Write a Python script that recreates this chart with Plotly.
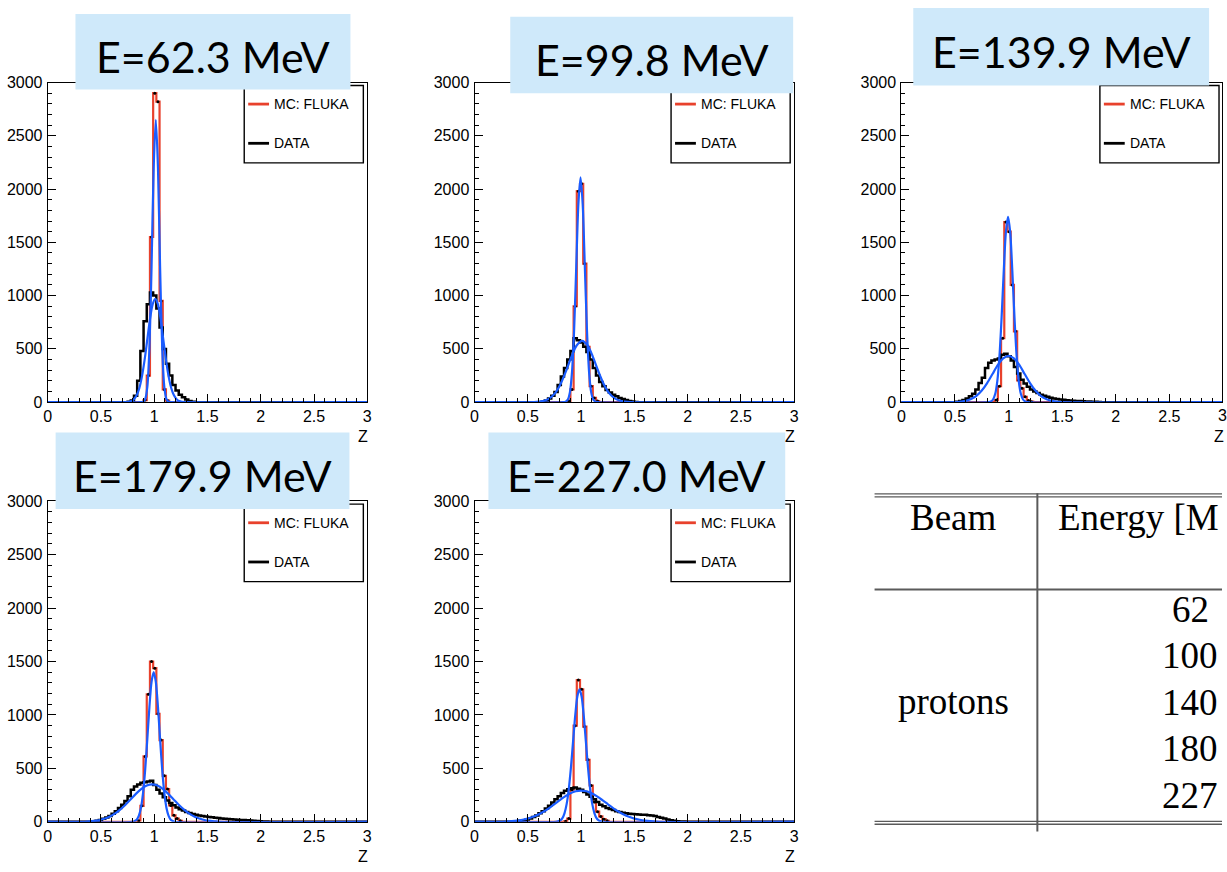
import plotly.graph_objects as go

W, H = 1227, 872
BIN_W = 0.03
N_BINS = 100

TITLES = ["E=62.3 MeV", "E=99.8 MeV", "E=139.9 MeV", "E=179.9 MeV", "E=227.0 MeV"]
X_TICKS = [0, 0.5, 1, 1.5, 2, 2.5, 3]
X_TICK_TEXT = ["0", "0.5", "1", "1.5", "2", "2.5", "3"]
Y_TICKS = [0, 500, 1000, 1500, 2000, 2500, 3000]
LEGEND_MC = "MC: FLUKA"
LEGEND_DATA = "DATA"

# ---- MC (FLUKA) histograms: centre of first listed bin, then counts per 0.03 bin
MC_FIRST = [0.915, 0.885, 0.885, 0.855, 0.855]
MC_62 = [20, 250, 1550, 2900, 2820, 950, 120, 15]
MC_100 = [10, 120, 900, 1980, 2050, 1300, 520, 150, 40, 10]
MC_140 = [20, 150, 600, 1690, 1600, 1100, 665, 205, 130, 50, 15, 5]
MC_180 = [10, 150, 612, 1193, 1500, 1438, 1010, 765, 430, 306, 153, 61, 30, 10]
MC_227 = [5, 30, 300, 900, 1326, 1240, 890, 580, 340, 185, 95, 50, 25, 10]

# ---- DATA histograms
DATA_FIRST = [0.765, 0.645, 0.525, 0.435, 0.375]
DATA_62 = [5, 15, 60, 200, 480, 760, 920, 1030, 1000, 880, 700, 500, 360, 250, 160,
           110, 70, 45, 25, 10, 3]
DATA_100 = [5, 15, 35, 60, 95, 160, 240, 320, 400, 480, 600, 580, 560, 520, 470, 400,
            320, 250, 190, 150, 115, 90, 70, 55, 40, 30, 20, 12, 6, 2]
DATA_140 = [3, 10, 20, 35, 55, 80, 120, 180, 230, 320, 370, 390, 400, 410, 445, 455,
            430, 390, 330, 270, 210, 175, 145, 120, 100, 85, 70, 60, 50, 42, 35, 30,
            26, 22, 19, 16, 14, 12, 10, 8, 7, 6, 4, 3, 2]
DATA_180 = [5, 10, 18, 28, 40, 55, 75, 100, 130, 160, 195, 240, 300, 330, 350, 365,
            370, 378, 385, 345, 300, 265, 230, 200, 175, 155, 135, 118, 105, 92, 82,
            74, 66, 60, 55, 50, 46, 42, 38, 35, 32, 29, 27, 25, 22, 20, 18, 16, 14,
            12, 10, 8, 6, 4, 2]
DATA_227 = [3, 6, 10, 15, 22, 32, 45, 60, 80, 100, 125, 150, 180, 210, 240, 270, 290,
            305, 315, 320, 310, 300, 280, 255, 235, 210, 185, 160, 145, 130, 120, 110,
            100, 92, 85, 80, 76, 72, 70, 68, 66, 65, 62, 60, 55, 46, 38, 30, 22, 15,
            10, 6, 4, 2]

# ---- Gaussian fit curves (blue)
FIT_MC_Z_62 = [0.875, 0.895, 0.915, 0.935, 0.955, 0.975, 0.995, 1.015, 1.035, 1.055,
               1.075, 1.095, 1.115, 1.135, 1.155]
FIT_MC_Y_62 = [0, 4, 27, 140, 507, 1271, 2205, 2650, 2205, 1271, 507, 140, 27, 4, 0]
FIT_MC_Z_100 = [0.835, 0.855, 0.875, 0.895, 0.915, 0.935, 0.955, 0.975, 0.995, 1.015,
                1.035, 1.055, 1.075, 1.095, 1.115, 1.135, 1.155]
FIT_MC_Y_100 = [0, 5, 24, 92, 285, 685, 1280, 1862, 2110, 1862, 1280, 685, 285, 92, 24, 5, 0]
FIT_MC_Z_140 = [0.815, 0.835, 0.855, 0.875, 0.895, 0.915, 0.935, 0.955, 0.975, 0.995,
                1.015, 1.035, 1.055, 1.075, 1.095, 1.115, 1.135, 1.155, 1.175]
FIT_MC_Y_140 = [0, 6, 25, 76, 198, 434, 796, 1230, 1595, 1740, 1595, 1230, 796, 434,
                198, 76, 25, 6, 0]
FIT_MC_Z_180 = [0.795, 0.815, 0.835, 0.855, 0.875, 0.895, 0.915, 0.935, 0.955, 0.975,
                0.995, 1.015, 1.035, 1.055, 1.075, 1.095, 1.115, 1.135, 1.155, 1.175, 1.195]
FIT_MC_Y_180 = [0, 7, 20, 55, 130, 268, 486, 772, 1075, 1310, 1400, 1310, 1075, 772,
                486, 268, 130, 55, 20, 7, 0]
FIT_MC_Z_227 = [0.765, 0.785, 0.805, 0.825, 0.845, 0.865, 0.885, 0.905, 0.925, 0.945,
                0.965, 0.985, 1.005, 1.025, 1.045, 1.065, 1.085, 1.105, 1.125, 1.145,
                1.165, 1.185, 1.205]
FIT_MC_Y_227 = [0, 5, 14, 35, 82, 168, 309, 510, 752, 993, 1173, 1240, 1173, 993, 752,
                510, 309, 168, 82, 35, 14, 5, 0]

FIT_DATA_Z_62 = [0.735, 0.76, 0.785, 0.81, 0.835, 0.86, 0.885, 0.91, 0.935, 0.96, 0.985,
                 1.01, 1.035, 1.06, 1.085, 1.11, 1.135, 1.16, 1.185, 1.21, 1.235, 1.26, 1.285]
FIT_DATA_Y_62 = [0, 4, 11, 28, 64, 131, 242, 399, 588, 777, 918, 970, 918, 777, 588,
                 399, 242, 131, 64, 28, 11, 4, 0]
FIT_DATA_Z_100 = [0.56, 0.61, 0.66, 0.71, 0.76, 0.81, 0.86, 0.91, 0.96, 1.01, 1.06,
                  1.11, 1.16, 1.21, 1.26, 1.31, 1.36, 1.41, 1.46]
FIT_DATA_Y_100 = [0, 5, 15, 40, 90, 176, 295, 428, 534, 575, 534, 428, 295, 176, 90,
                  40, 15, 5, 0]
FIT_DATA_Z_140 = [0.5, 0.55, 0.6, 0.65, 0.7, 0.75, 0.8, 0.85, 0.9, 0.95, 1.0, 1.05,
                  1.1, 1.15, 1.2, 1.25, 1.3, 1.35, 1.4, 1.45, 1.5]
FIT_DATA_Y_140 = [0, 5, 12, 29, 59, 109, 179, 264, 349, 411, 435, 411, 349, 264, 179,
                  109, 59, 29, 12, 5, 0]
FIT_DATA_Z_180 = [0.33, 0.38, 0.43, 0.48, 0.53, 0.58, 0.63, 0.68, 0.73, 0.78, 0.83,
                  0.88, 0.93, 0.98, 1.03, 1.08, 1.13, 1.18, 1.23, 1.28, 1.33, 1.38,
                  1.43, 1.48, 1.53, 1.58, 1.63]
FIT_DATA_Y_180 = [0, 4, 8, 15, 28, 47, 76, 114, 160, 212, 264, 309, 339, 350, 339, 309,
                  264, 212, 160, 114, 76, 47, 28, 15, 8, 4, 0]
FIT_DATA_Z_227 = [0.25, 0.3, 0.35, 0.4, 0.45, 0.5, 0.55, 0.6, 0.65, 0.7, 0.75, 0.8,
                  0.85, 0.9, 0.95, 1.0, 1.05, 1.1, 1.15, 1.2, 1.25, 1.3, 1.35, 1.4,
                  1.45, 1.5, 1.55, 1.6, 1.65, 1.7, 1.75]
FIT_DATA_Y_227 = [0, 3, 6, 11, 19, 30, 47, 69, 96, 129, 166, 203, 238, 267, 286, 292,
                  286, 267, 238, 203, 166, 129, 96, 69, 47, 30, 19, 11, 6, 3, 0]

# ---- table (cropped at the right edge of the picture)
TABLE_HEAD = ["Beam", "Energy [M"]
TABLE_BEAM = "protons"
TABLE_ENERGIES = ["62", "100", "140", "180", "227"]

MC_LIST = [MC_62, MC_100, MC_140, MC_180, MC_227]
DATA_LIST = [DATA_62, DATA_100, DATA_140, DATA_180, DATA_227]
FIT_MC = [(FIT_MC_Z_62, FIT_MC_Y_62), (FIT_MC_Z_100, FIT_MC_Y_100), (FIT_MC_Z_140, FIT_MC_Y_140),
          (FIT_MC_Z_180, FIT_MC_Y_180), (FIT_MC_Z_227, FIT_MC_Y_227)]
FIT_DATA = [(FIT_DATA_Z_62, FIT_DATA_Y_62), (FIT_DATA_Z_100, FIT_DATA_Y_100),
            (FIT_DATA_Z_140, FIT_DATA_Y_140), (FIT_DATA_Z_180, FIT_DATA_Y_180),
            (FIT_DATA_Z_227, FIT_DATA_Y_227)]

# ---- layout geometry (pixels)
PANELS = [
    dict(x0=44, x1=366, y0=76, y1=402, zfull=322),
    dict(x0=474, x1=796, y0=76, y1=402, zfull=322),
    dict(x0=904, x1=1228, y0=76, y1=402, zfull=324),
    dict(x0=44, x1=366, y0=503, y1=830, zfull=322),
    dict(x0=474, x1=796, y0=503, y1=830, zfull=322),
]
TITLE_BOXES = [(72, 349, 6, 83), (510, 795, 9, 87), (916, 1214, 0, 79),
               (52, 348, 433, 511), (488, 787, 433, 511)]

RED = "#e8412c"
BLUE = "#1a5cff"
BOX_BLUE = "#cfe9fa"
TICK_FONT = dict(family="Liberation Sans", size=16, color="black")


def px(x):
    return x / W


def py(y):
    return 1 - y / H


def full_bins(first, counts):
    arr = [0] * N_BINS
    start = int(round((first - BIN_W / 2) / BIN_W))
    for j, v in enumerate(counts):
        arr[start + j] = v
    return arr


edges = [k * BIN_W for k in range(N_BINS + 1)]
centres = [(k + 0.5) * BIN_W for k in range(N_BINS)]

fig = go.Figure()
shapes = []
annotations = []

for i, p in enumerate(PANELS):
    n = i + 1
    xa = "x" if n == 1 else f"x{n}"
    ya = "y" if n == 1 else f"y{n}"
    mc = full_bins(MC_FIRST[i], MC_LIST[i])
    data = full_bins(DATA_FIRST[i], DATA_LIST[i])

    fig.add_trace(go.Scatter(x=edges, y=mc + [mc[-1]], mode="lines", line_shape="hv",
                             line=dict(color=RED, width=2.2), xaxis=xa, yaxis=ya,
                             hoverinfo="skip"))
    fig.add_trace(go.Scatter(x=edges, y=data + [data[-1]], mode="lines", line_shape="hv",
                             line=dict(color="black", width=2.5), xaxis=xa, yaxis=ya,
                             hoverinfo="skip"))
    mx = [c for c, v in zip(centres, mc) if v > 0]
    my = [v for v in mc if v > 0]
    fig.add_trace(go.Scatter(x=mx, y=my, mode="markers",
                             marker=dict(color="black", size=3), xaxis=xa, yaxis=ya,
                             hoverinfo="skip"))
    for fz, fy in (FIT_DATA[i], FIT_MC[i]):
        fig.add_trace(go.Scatter(x=[0] + fz + [3], y=[0] + fy + [0], mode="lines",
                                 line=dict(color=BLUE, width=2.2, shape="spline",
                                           smoothing=0.8),
                                 xaxis=xa, yaxis=ya, hoverinfo="skip"))

    x1 = min(p["x1"], W)
    zmax = 3.0 * (x1 - p["x0"]) / p["zfull"]
    axis_common = dict(showline=True, mirror=True, linecolor="black", linewidth=1,
                       showgrid=False, zeroline=False, ticks="inside", ticklen=8,
                       tickcolor="black", tickwidth=1, tickfont=TICK_FONT)
    fig.layout[f"xaxis{'' if n == 1 else n}"] = dict(
        domain=[px(p["x0"]), px(x1)], range=[0, zmax], anchor=ya,
        tickvals=X_TICKS, ticktext=X_TICK_TEXT,
        minor=dict(dtick=0.1, tick0=0, ticks="inside", ticklen=4, tickcolor="black",
                   showgrid=False),
        **axis_common)
    fig.layout[f"yaxis{'' if n == 1 else n}"] = dict(
        domain=[py(p["y1"]), py(p["y0"])], range=[0, 3000], anchor=xa,
        tickvals=Y_TICKS, ticklabelstandoff=1,
        minor=dict(dtick=100, tick0=0, ticks="inside", ticklen=4, tickcolor="black",
                   showgrid=False),
        **axis_common)

    # legend box
    lx0, lx1 = p["x1"] - 124, p["x1"] - 4
    ly0, ly1 = p["y0"] + 3, p["y0"] + 82
    shapes.append(dict(type="rect", xref="paper", yref="paper", x0=px(lx0), x1=px(lx1),
                       y0=py(ly1), y1=py(ly0), line=dict(color="black", width=1.4),
                       fillcolor="white", layer="above"))
    for k, (col, lab) in enumerate([(RED, LEGEND_MC), ("black", LEGEND_DATA)]):
        yy = p["y0"] + 22 + 40 * k
        shapes.append(dict(type="line", xref="paper", yref="paper", x0=px(lx0 + 4),
                           x1=px(lx0 + 25), y0=py(yy), y1=py(yy),
                           line=dict(color=col, width=2.8), layer="above"))
        annotations.append(dict(text=lab, xref="paper", yref="paper", x=px(lx0 + 28),
                                y=py(yy), xanchor="left", yanchor="middle",
                                showarrow=False,
                                font=dict(family="Liberation Sans", size=14,
                                          color="black")))
    # axis title Z
    annotations.append(dict(text="Z", xref="paper", yref="paper", x=px(p["x1"] - 4),
                            y=py(p["y1"] + 35), xanchor="center", yanchor="middle",
                            showarrow=False, font=TICK_FONT))

# panel 3's cut-off "3" tick label
annotations.append(dict(text="3", xref="paper", yref="paper", x=px(1228),
                        y=py(416), xanchor="center", yanchor="middle",
                        showarrow=False, font=TICK_FONT))

# title boxes
for (bx0, bx1, by0, by1), t in zip(TITLE_BOXES, TITLES):
    shapes.append(dict(type="rect", xref="paper", yref="paper", x0=px(bx0), x1=px(bx1),
                       y0=py(by1), y1=py(by0), line=dict(width=0), fillcolor=BOX_BLUE,
                       layer="above"))
    annotations.append(dict(text=t, xref="paper", yref="paper", x=px((bx0 + bx1) / 2),
                            y=py((by0 + by1) / 2 + 5), xanchor="center", yanchor="middle",
                            showarrow=False,
                            font=dict(family="Lato", size=43, color="black")))

# table
GRAY = "#5a5a5a"
for yy in (495.5, 498.5, 829.5, 832.5):
    shapes.append(dict(type="line", xref="paper", yref="paper", x0=px(877), x1=px(1227),
                       y0=py(yy), y1=py(yy), line=dict(color=GRAY, width=1.3)))
shapes.append(dict(type="line", xref="paper", yref="paper", x0=px(877), x1=px(1227),
                   y0=py(593), y1=py(593), line=dict(color=GRAY, width=2)))
shapes.append(dict(type="line", xref="paper", yref="paper", x0=px(1041), x1=px(1041),
                   y0=py(495), y1=py(840), line=dict(color=GRAY, width=2)))
SERIF = dict(family="Liberation Serif", size=37, color="black")
annotations.append(dict(text=TABLE_HEAD[0], xref="paper", yref="paper", x=px(957),
                        y=py(520), xanchor="center", yanchor="middle", showarrow=False,
                        font=SERIF))
annotations.append(dict(text=TABLE_HEAD[1], xref="paper", yref="paper", x=px(1226),
                        y=py(520), xanchor="right", yanchor="middle", showarrow=False,
                        font=SERIF))
annotations.append(dict(text=TABLE_BEAM, xref="paper", yref="paper", x=px(957),
                        y=py(707), xanchor="center", yanchor="middle", showarrow=False,
                        font=SERIF))
for k, e in enumerate(TABLE_ENERGIES):
    annotations.append(dict(text=e, xref="paper", yref="paper", x=px(1195),
                            y=py(613 + 47.5 * k), xanchor="center", yanchor="middle",
                            showarrow=False, font=SERIF))

fig.update_layout(width=W, height=H, margin=dict(l=0, r=0, t=0, b=0, pad=0),
                  paper_bgcolor="white", plot_bgcolor="white", showlegend=False,
                  shapes=shapes, annotations=annotations)

fig.write_html("out.html")
